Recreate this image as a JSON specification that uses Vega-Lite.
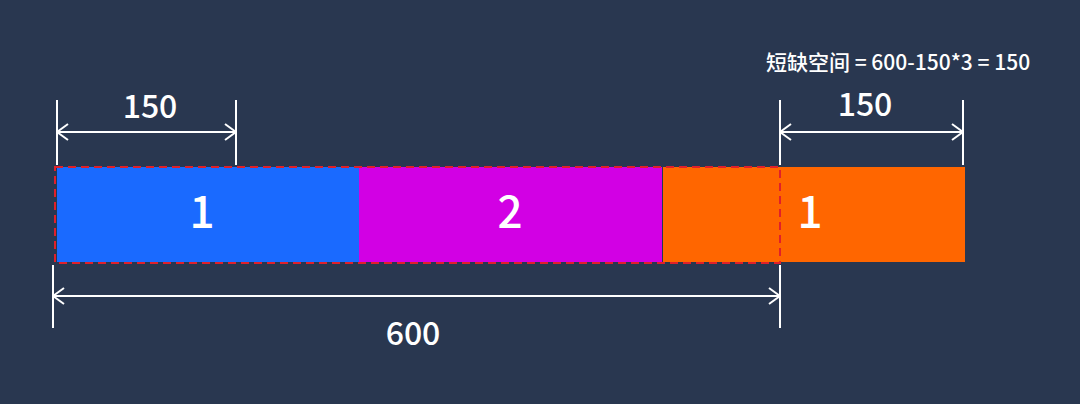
{
  "$schema": "https://vega.github.io/schema/vega-lite/v6.json",
  "width": 1080,
  "height": 404,
  "autosize": {"type": "fit", "contains": "padding"},
  "padding": 0,
  "background": "#293750",
  "config": {"view": {"stroke": null}},
  "encoding": {},
  "layer": [
    {
      "data": {"values": [
        {"item": "1a", "x": 57, "x2": 359, "y": 167, "y2": 262, "color": "#1a6aff"},
        {"item": "2", "x": 359, "x2": 662, "y": 167, "y2": 262, "color": "#d200e4"},
        {"item": "1b", "x": 663, "x2": 965, "y": 167, "y2": 262, "color": "#ff6600"}
      ]},
      "mark": {"type": "rect"},
      "encoding": {
        "x": {"field": "x", "type": "quantitative", "scale": {"domain": [0, 1080], "nice": false, "zero": false}, "axis": null},
        "x2": {"field": "x2"},
        "y": {"field": "y", "type": "quantitative", "scale": {"domain": [0, 404], "reverse": true, "nice": false, "zero": false}, "axis": null},
        "y2": {"field": "y2"},
        "fill": {"field": "color", "type": "nominal", "scale": null}
      }
    },
    {
      "data": {"values": [{"x": 55, "x2": 780, "y": 167, "y2": 263}]},
      "mark": {"type": "rect", "fill": null, "stroke": "#e0202a", "strokeWidth": 2, "strokeDash": [8, 5]},
      "encoding": {
        "x": {"field": "x", "type": "quantitative"},
        "x2": {"field": "x2"},
        "y": {"field": "y", "type": "quantitative"},
        "y2": {"field": "y2"}
      }
    },
    {
      "data": {"values": [
        {"x": 57, "x2": 57, "y": 100, "y2": 165},
        {"x": 236, "x2": 236, "y": 100, "y2": 165},
        {"x": 780, "x2": 780, "y": 100, "y2": 165},
        {"x": 963, "x2": 963, "y": 100, "y2": 165},
        {"x": 53, "x2": 53, "y": 265, "y2": 328},
        {"x": 780, "x2": 780, "y": 265, "y2": 328},
        {"x": 57, "x2": 236, "y": 132, "y2": 132},
        {"x": 780, "x2": 963, "y": 132, "y2": 132},
        {"x": 53, "x2": 780, "y": 296, "y2": 296},
        {"x": 57, "x2": 68, "y": 132, "y2": 124},
        {"x": 57, "x2": 68, "y": 132, "y2": 140},
        {"x": 236, "x2": 225, "y": 132, "y2": 124},
        {"x": 236, "x2": 225, "y": 132, "y2": 140},
        {"x": 780, "x2": 791, "y": 132, "y2": 124},
        {"x": 780, "x2": 791, "y": 132, "y2": 140},
        {"x": 963, "x2": 952, "y": 132, "y2": 124},
        {"x": 963, "x2": 952, "y": 132, "y2": 140},
        {"x": 53, "x2": 64, "y": 296, "y2": 288},
        {"x": 53, "x2": 64, "y": 296, "y2": 304},
        {"x": 780, "x2": 769, "y": 296, "y2": 288},
        {"x": 780, "x2": 769, "y": 296, "y2": 304}
      ]},
      "mark": {"type": "rule", "color": "white", "strokeWidth": 2},
      "encoding": {
        "x": {"field": "x", "type": "quantitative"},
        "x2": {"field": "x2"},
        "y": {"field": "y", "type": "quantitative"},
        "y2": {"field": "y2"}
      }
    },
    {
      "data": {"values": [
        {"label": "150", "x": 150, "y": 108, "size": 32},
        {"label": "150", "x": 865, "y": 106, "size": 32},
        {"label": "600", "x": 413, "y": 335, "size": 32},
        {"label": "1", "x": 202, "y": 215, "size": 44},
        {"label": "2", "x": 510, "y": 215, "size": 44},
        {"label": "1", "x": 810, "y": 215, "size": 44},
        {"label": "短缺空间 = 600-150*3 = 150", "x": 898, "y": 64, "size": 21}
      ]},
      "mark": {"type": "text", "color": "white", "font": "Noto Sans CJK SC", "align": "center", "baseline": "middle", "fontWeight": 500},
      "encoding": {
        "x": {"field": "x", "type": "quantitative"},
        "y": {"field": "y", "type": "quantitative"},
        "text": {"field": "label"},
        "size": {"field": "size", "type": "quantitative", "scale": null}
      }
    }
  ]
}
